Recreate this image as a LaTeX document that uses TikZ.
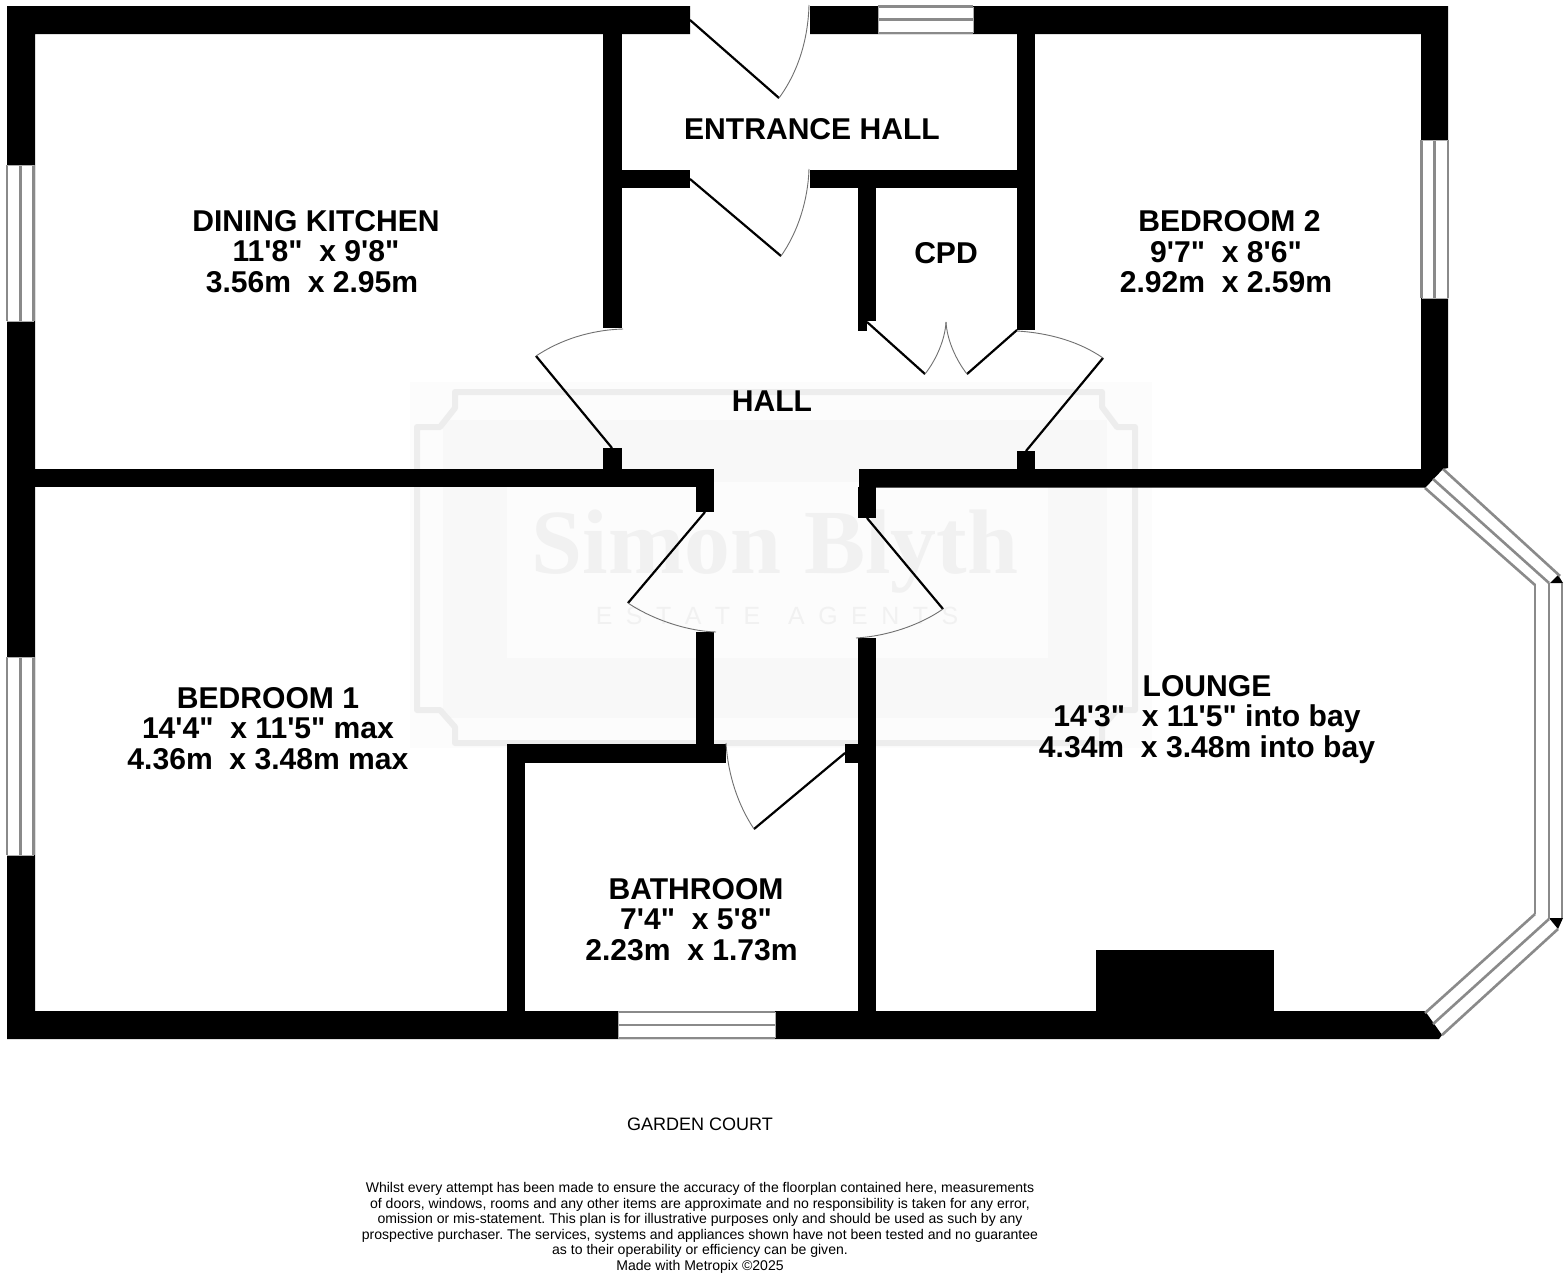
\documentclass[tikz,border=0pt]{standalone}
\usepackage{fontspec}
\setmainfont{Liberation Sans}
\newfontfamily\plainfont{Liberation Sans}
\newfontfamily\wmfont{Liberation Serif}
\definecolor{glassline}{HTML}{8A8A8A}
\definecolor{arcline}{HTML}{707070}
\definecolor{wmband}{HTML}{EDEDED}
\definecolor{wmbg}{HTML}{F8F8F8}
\definecolor{wmlight}{HTML}{FCFCFC}
\definecolor{wmtext}{HTML}{F1F1F1}
\tikzset{
  x=1bp,y=-1bp,
  wall/.style={fill=black,draw=none},
  leaf/.style={draw=black,line width=2.2bp},
  swing/.style={draw=arcline,line width=0.9bp},
  glass/.style={draw=glassline,line width=2.6bp},
  glassend/.style={draw=glassline!70,line width=0.8bp},
  room/.style={font=\plainfont\bfseries\fontsize{30.2}{30.5}\selectfont,align=center,inner sep=0pt,text=black},
  small/.style={font=\plainfont\frenchspacing\fontsize{14.1}{15.6}\selectfont,align=center,inner sep=0pt,text=black}
}
\newcommand{\vwin}[4]{% x0 x1 y0 y1 : window in vertical wall
  \fill[white] (#1,#3) rectangle (#2,#4);
  \draw[glass] (#1,#3) -- (#1,#4) (#2,#3) -- (#2,#4) ({(#1+#2)/2},#3) -- ({(#1+#2)/2},#4);
  \draw[glassend] (#1,#3) -- (#2,#3) (#1,#4) -- (#2,#4);}
\newcommand{\hwin}[4]{% x0 x1 y0 y1 : window in horizontal wall
  \fill[white] (#1,#3) rectangle (#2,#4);
  \draw[glass] (#1,#3) -- (#2,#3) (#1,#4) -- (#2,#4) (#1,{(#3+#4)/2}) -- (#2,{(#3+#4)/2});
  \draw[glassend] (#1,#3) -- (#1,#4) (#2,#3) -- (#2,#4);}
\begin{document}
\begin{tikzpicture}
\useasboundingbox (0,0) rectangle (1568,1280);
\fill[white] (0,0) rectangle (1568,1280);
% watermark
\fill[wmlight] (410,382) rectangle (1152,748);
\fill[wmbg] (443,420) rectangle (1107,718);
\fill[wmlight] (507,482) rectangle (1048,658);
\draw[wmband,line width=6bp,line join=round]
 (455,392) -- (1102,392) -- (1102,407) -- (1117,427) -- (1135,427)
 -- (1135,710) -- (1117,710) -- (1102,727) -- (1102,743)
 -- (455,743) -- (455,727) -- (440,710) -- (417,710)
 -- (417,427) -- (440,427) -- (455,408) -- cycle;
\node[inner sep=0pt,text=wmtext,font=\wmfont\bfseries\fontsize{92}{92}\selectfont] (wmname) at (775,552) {Simon Blyth};
\node[inner sep=0pt,text=wmtext,font=\plainfont\fontsize{25}{25}\selectfont] (wmsub) at (777,616) {E\hspace{13.5bp}S\hspace{13.5bp}T\hspace{13.5bp}A\hspace{13.5bp}T\hspace{13.5bp}E\hspace{28bp}A\hspace{13.5bp}G\hspace{13.5bp}E\hspace{13.5bp}N\hspace{13.5bp}T\hspace{13.5bp}S};
% walls
\fill[wall] (7,6) -- (690,6) -- (690,34) -- (35,34) -- (35,1011) -- (1425,1011) -- (1442,1035) -- (1439,1039) -- (7,1039) -- cycle;
\fill[wall] (810,6) -- (1448,6) -- (1448,468) -- (1443,469) -- (1425,488) -- (1421,470) -- (1421,34) -- (810,34) -- cycle;
\fill[wall] (35,469) rectangle (714,487);
\fill[wall] (859,469) -- (1430,469) -- (1425,487.5) -- (859,487.5) -- cycle;
\fill[wall] (696,487) rectangle (714,512);
\fill[wall] (858,487) rectangle (876,518);
\fill[wall] (603,34) rectangle (622,328);
\fill[wall] (622,170) rectangle (690,188);
\fill[wall] (810,170) rectangle (1035,188);
\fill[wall] (1017,34) rectangle (1035,330);
\fill[wall] (858,188) rectangle (876,321);
\fill[wall] (858,321) rectangle (867,331);
\fill[wall] (603,448) rectangle (622,469);
\fill[wall] (1017,451) rectangle (1035,469);
\fill[wall] (696,632) rectangle (714,744);
\fill[wall] (507,744) rectangle (726,763);
\fill[wall] (507,744) rectangle (525,1011);
\fill[wall] (858,638) rectangle (876,1011);
\fill[wall] (845,744) rectangle (858,763);
\fill[wall] (1096,950) rectangle (1274,1011);
% windows
\hwin{878}{973}{6.5}{33}
\vwin{7}{33.5}{165}{321}
\vwin{7}{33.5}{657}{855}
\hwin{618}{775}{1012}{1038}
\vwin{1421.5}{1448}{140}{298}
% bay
\fill[black] (1550,583) -- (1558,575) -- (1563,583) -- cycle;
\fill[black] (1549,918) -- (1563,918) -- (1558,929) -- cycle;
\draw[glass] (1425,488) -- (1535,585);
\draw[glass] (1433,479) -- (1549,583);
\draw[glass] (1443,469) -- (1560,576);
\draw[glass] (1535,584) -- (1535,914);
\draw[glass] (1549,583) -- (1549,919);
\draw[glass] (1562,583) -- (1562,918);
\draw[glass] (1425,1013) -- (1535,914);
\draw[glass] (1433,1024) -- (1549,919);
\draw[glass] (1442,1035) -- (1558,929);
% doors
\coordinate (d1h) at (690,20); \coordinate (d1e) at (779,98); \coordinate (d1w) at (809,5);
\draw[leaf] (d1h) -- (d1e);
\draw[swing] (d1e) .. controls (798,72) and (808,40) .. (d1w);
\coordinate (d2h) at (690,179); \coordinate (d2e) at (781,256); \coordinate (d2w) at (809,169);
\draw[leaf] (d2h) -- (d2e);
\draw[swing] (d2e) .. controls (798,232) and (808,200) .. (d2w);
\coordinate (d3h) at (867,322); \coordinate (d3e) at (925,374); \coordinate (d3w) at (946,322);
\draw[leaf] (d3h) -- (d3e);
\draw[swing] (d3e) .. controls (936,360) and (945,340) .. (d3w);
\coordinate (d4h) at (1017,330); \coordinate (d4e) at (967,374);
\draw[leaf] (d4h) -- (d4e);
\draw[swing] (d4e) .. controls (956,360) and (947,340) .. (d3w);
\coordinate (d5h) at (612,448); \coordinate (d5e) at (536,356); \coordinate (d5w) at (623,329);
\draw[leaf] (d5h) -- (d5e);
\draw[swing] (d5e) .. controls (560,340) and (590,330) .. (d5w);
\coordinate (d6h) at (1026,451); \coordinate (d6e) at (1103,358); \coordinate (d6w) at (1017,331);
\draw[leaf] (d6h) -- (d6e);
\draw[swing] (d6e) .. controls (1080,342) and (1050,333) .. (d6w);
\coordinate (d7h) at (705,512); \coordinate (d7e) at (628,603); \coordinate (d7w) at (716,632);
\draw[leaf] (d7h) -- (d7e);
\draw[swing] (d7e) .. controls (650,618) and (685,631) .. (d7w);
\coordinate (d8h) at (867,518); \coordinate (d8e) at (943,609); \coordinate (d8w) at (856,638);
\draw[leaf] (d8h) -- (d8e);
\draw[swing] (d8e) .. controls (920,625) and (888,636) .. (d8w);
\coordinate (d9h) at (845,753); \coordinate (d9e) at (754,829); \coordinate (d9w) at (726,743);
\draw[leaf] (d9h) -- (d9e);
\draw[swing] (d9e) .. controls (738,805) and (728,775) .. (d9w);
% labels
\node[room] (entrance) at (812,129) {ENTRANCE HALL};
\node[room] (cpd) at (946,253) {CPD};
\node[room] (hall) at (772,401) {HALL};
\node[room] (dining) at (316,251.5) {DINING KITCHEN\\11'8"\ \ x 9'8"\hspace*{6bp}\\3.56m\ \ x 2.95m\hspace*{8bp}};
\node[room] (bed2) at (1226,252) {\hspace*{7bp}BEDROOM 2\\9'7"\ \ x 8'6"\\2.92m\ \ x 2.59m};
\node[room] (bed1) at (268,728.5) {BEDROOM 1\\14'4"\ \ x 11'5" max\\4.36m\ \ x 3.48m max};
\node[room] (lounge) at (1207,719.5) {LOUNGE\\14'3"\ \ x 11'5" into bay\\4.34m\ \ x 3.48m into bay};
\node[room] (bath) at (696,919.5) {BATHROOM\\7'4"\ \ x 5'8"\hspace*{9bp}\\2.23m\ \ x 1.73m\hspace*{9bp}};
\node[small,font=\plainfont\fontsize{18.1}{18}\selectfont] (court) at (700,1124) {GARDEN COURT};
\node[small] (note) at (700,1228) {Whilst every attempt has been made to ensure the accuracy of the floorplan contained here, measurements\\of doors, windows, rooms and any other items are approximate and no responsibility is taken for any error,\\omission or mis-statement. This plan is for illustrative purposes only and should be used as such by any\\prospective purchaser. The services, systems and appliances shown have not been tested and no guarantee\\as to their operability or efficiency can be given.\\Made with Metropix \textcopyright 2025};
\end{tikzpicture}
\end{document}
